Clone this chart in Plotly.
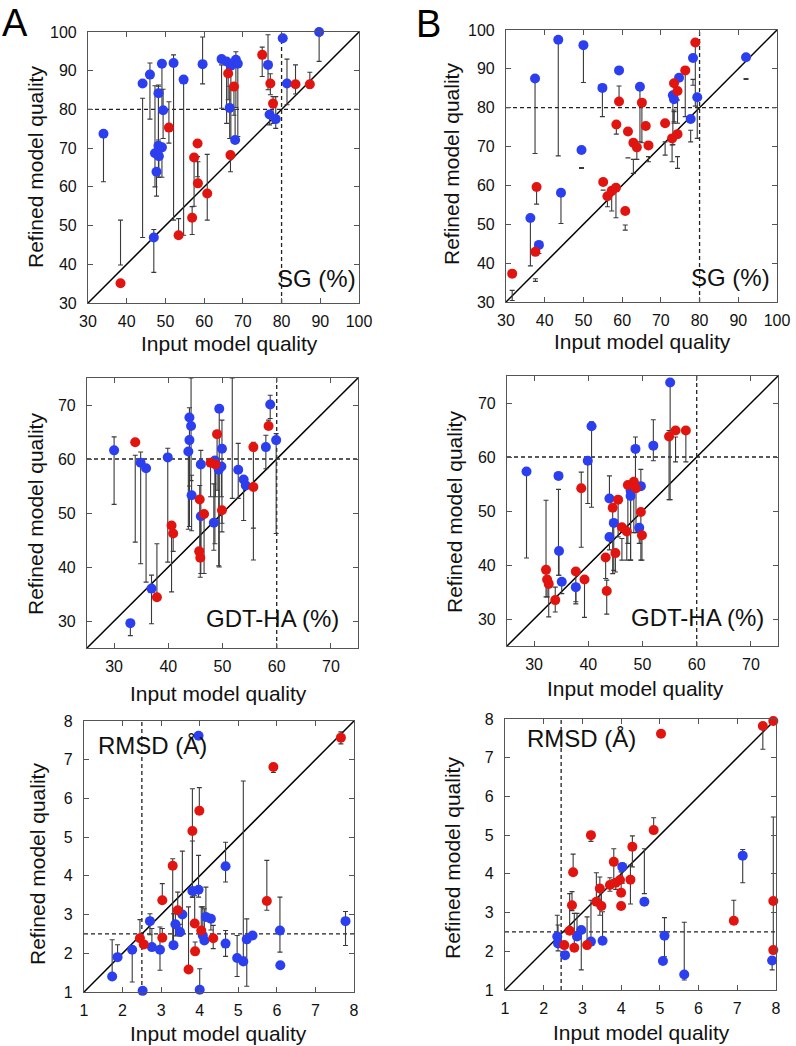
import plotly.graph_objects as go

# ---- panel A, SG (%) ----
sg_a_blue_x = [34.0, 44.1, 46.0, 49.1, 48.2, 49.4, 48.2, 49.1, 47.3, 48.3, 47.7, 52.1, 54.7, 59.6, 64.5, 65.8, 66.9, 68.2, 68.7, 66.6, 68.0, 76.5, 76.9, 78.5, 80.3, 81.4, 89.7, 47.0]
sg_a_blue_y = [73.7, 86.7, 89.0, 91.8, 84.2, 79.8, 70.6, 70.2, 68.7, 67.9, 63.9, 92.0, 87.7, 91.7, 93.0, 92.4, 91.3, 92.8, 91.8, 80.4, 72.1, 91.5, 78.7, 77.5, 98.4, 86.7, 100.0, 46.9]
sg_a_blue_lo = [61.3, 46.9, 77.5, 80.0, 72.1, 72.5, 62.5, 62.5, 60.0, 62.5, 57.6, 51.4, 47.5, 86.6, 80.3, 76.4, 72.5, 80.5, 73.0, 72.5, 72.1, 85.1, 76.0, 75.1, None, 81.2, 92.4, 37.9]
sg_a_blue_hi = [73.7, 82.9, 92.0, 91.8, 86.3, 85.2, 86.0, 70.2, 86.1, 67.9, 63.9, 94.1, 87.7, 98.7, 91.5, 92.4, 91.3, 94.9, 91.8, 86.0, 80.0, 99.3, 78.7, 83.3, None, 93.0, 100.0, 49.0]
sg_a_red_x = [38.4, 50.9, 53.4, 56.9, 58.3, 57.4, 58.4, 60.8, 66.8, 66.2, 67.7, 75.0, 77.1, 77.8, 83.6, 87.3]
sg_a_red_y = [35.1, 75.3, 47.5, 52.0, 71.2, 67.6, 60.9, 58.3, 68.2, 89.3, 85.9, 94.1, 86.7, 81.5, 86.5, 86.5]
sg_a_red_lo = [39.8, 71.3, 47.5, 47.7, 62.6, 55.0, 60.9, 51.4, 63.9, 82.5, 78.5, 88.5, 83.8, 76.4, 84.0, 85.5]
sg_a_red_hi = [51.4, 82.0, 51.8, 54.9, 67.8, 67.6, 66.5, 68.4, 68.2, 91.8, 85.9, 96.1, 89.2, 83.3, 91.5, 89.6]

# ---- panel B, SG (%) ----
sg_b_blue_x = [37.5, 43.5, 50.0, 59.2, 54.9, 64.6, 49.5, 44.2, 36.3, 38.5, 73.1, 73.4, 74.7, 78.3, 79.4, 77.7, 92.0]
sg_b_blue_y = [87.5, 97.5, 96.1, 89.6, 85.1, 85.4, 69.1, 58.1, 51.6, 44.7, 83.2, 82.2, 87.7, 92.8, 82.7, 77.1, 93.0]
sg_b_blue_lo = [68.2, 67.6, 86.5, None, 77.7, 71.2, 64.4, 50.2, 39.3, 42.5, 70.5, 76.0, None, 85.8, 72.1, 71.2, 87.3]
sg_b_blue_hi = [87.5, 97.5, 96.1, None, 85.1, 85.4, 64.6, 58.1, 51.6, 44.7, 83.2, 79.0, None, 87.3, 82.7, 74.2, 87.5]
sg_b_red_x = [31.6, 37.6, 37.9, 55.1, 56.2, 57.3, 58.4, 58.5, 59.2, 60.8, 61.5, 62.9, 63.8, 65.1, 66.1, 66.8, 71.1, 72.9, 74.3, 73.4, 74.3, 76.3, 78.9]
sg_b_red_y = [37.3, 42.9, 59.6, 60.9, 57.2, 58.6, 59.4, 75.7, 81.6, 53.4, 73.9, 71.0, 69.8, 81.3, 75.3, 70.3, 76.0, 72.1, 73.2, 86.3, 84.3, 89.6, 96.8]
sg_b_red_lo = [30.4, 35.3, 55.2, 58.8, 54.5, 53.4, 51.7, 73.2, 81.6, 48.5, 67.1, 63.1, 66.7, 71.0, None, 66.1, 67.8, 66.1, 64.4, 76.4, 76.0, 77.7, 80.4]
sg_b_red_hi = [33.0, 36.0, 59.6, 58.8, 57.2, 58.6, 59.4, 74.7, 85.6, 49.8, 67.1, 66.7, 69.8, 81.3, None, 67.4, 71.2, 70.4, 67.4, 79.4, 82.0, 89.6, 96.8]

# ---- panel A, GDT-HA (%) ----
gdt_a_blue_x = [30.0, 33.0, 34.9, 35.9, 36.9, 39.9, 43.9, 44.2, 43.9, 43.7, 44.3, 46.0, 46.0, 48.4, 49.4, 48.6, 49.9, 49.3, 49.8, 52.9, 53.9, 54.3, 58.0, 58.8, 59.9]
gdt_a_blue_y = [61.6, 29.6, 59.3, 58.3, 36.0, 60.3, 67.7, 66.1, 63.5, 61.4, 53.3, 59.0, 49.4, 48.2, 69.3, 59.7, 61.9, 58.0, 58.6, 58.0, 56.2, 55.1, 62.2, 70.1, 63.5]
gdt_a_blue_lo = [51.6, 27.3, 40.6, 37.2, 29.5, 40.9, 47.5, 56.0, 55.0, 47.0, 46.7, 43.4, 38.8, 43.1, 40.0, 44.3, 46.5, 40.2, 53.0, 52.7, 48.6, 55.1, 58.2, 67.5, 46.2]
gdt_a_blue_hi = [64.1, 29.6, 61.3, 58.8, 38.5, 62.0, 69.5, 75.0, 63.5, 61.4, 57.0, 61.6, 49.4, 55.4, 69.3, 59.7, 67.2, 58.0, 58.6, 62.9, 56.2, 55.1, 64.4, 71.8, 64.7]
gdt_a_red_x = [33.9, 37.9, 40.6, 40.9, 45.8, 45.7, 45.9, 46.6, 47.8, 48.7, 49.0, 49.9, 55.7, 55.7, 58.5]
gdt_a_red_y = [63.1, 34.4, 47.7, 46.2, 52.5, 42.9, 41.7, 49.8, 59.3, 59.0, 64.6, 50.5, 62.2, 54.8, 66.1]
gdt_a_red_lo = [44.6, 34.4, 35.4, 42.9, 42.5, 42.9, 38.1, 38.8, 53.0, 53.0, 54.2, 48.1, 41.3, 47.2, 66.1]
gdt_a_red_hi = [60.7, 44.3, 47.7, 46.2, 55.1, 42.9, 41.7, 49.8, 59.3, 59.0, 64.6, 50.5, 63.1, 54.8, 67.2]
# bar whose point lies above the plotted range
gdt_a_extra_x = [51.8]
gdt_a_extra_lo = [52.7]
gdt_a_extra_hi = [75.0]

# ---- panel B, GDT-HA (%) ----
gdt_b_blue_x = [28.6, 34.5, 34.6, 35.1, 37.7, 39.9, 40.6, 43.9, 43.9, 44.7, 47.8, 47.8, 48.7, 49.4, 49.7, 52.0, 55.1]
gdt_b_blue_y = [57.3, 56.5, 42.6, 36.9, 35.9, 59.3, 65.7, 52.3, 45.2, 47.8, 53.8, 52.8, 61.5, 46.9, 54.6, 62.1, 73.8]
gdt_b_blue_lo = [41.3, 38.1, 38.1, 34.7, 32.8, 51.4, 50.7, 52.3, 42.8, 39.0, 40.9, 40.9, 54.0, 44.0, 54.6, 59.3, 52.1]
gdt_b_blue_hi = [57.3, 54.0, 42.6, 36.9, 35.9, 59.3, 66.5, 56.5, 45.2, 47.8, 55.0, 52.8, 63.7, 46.9, 57.7, 66.9, 73.8]
gdt_b_red_x = [32.2, 32.4, 32.7, 33.9, 37.7, 38.7, 39.3, 43.2, 43.4, 44.5, 45.0, 45.5, 46.2, 47.1, 47.3, 48.4, 48.8, 49.7, 49.9, 54.9, 56.1, 58.0]
gdt_b_red_y = [39.1, 37.3, 36.5, 33.5, 38.8, 54.2, 37.3, 41.4, 35.2, 50.6, 42.2, 52.1, 47.0, 46.2, 54.8, 55.4, 54.2, 49.8, 45.5, 63.8, 64.9, 64.9]
gdt_b_red_lo = [34.1, 34.1, 30.4, 31.3, 33.2, 43.3, 30.3, 37.5, 30.9, 38.4, 38.7, 45.2, 40.9, 40.9, 44.0, 46.0, 46.0, 40.9, 40.9, 52.1, 59.1, 59.1]
gdt_b_red_hi = [52.0, 37.3, 36.5, 35.9, 38.8, 57.2, 37.3, 41.4, 37.2, 50.6, 42.2, 52.1, 44.9, 46.2, 54.8, 55.4, 54.2, 49.8, 45.5, 64.9, 63.7, 64.9]

# ---- panel A, RMSD ----
rmsd_a_blue_x = [1.73, 1.87, 2.25, 2.52, 2.71, 2.76, 2.97, 3.32, 3.37, 3.49, 3.55, 3.81, 3.97, 3.97, 4.00, 4.08, 4.12, 4.16, 4.29, 4.67, 4.67, 4.97, 5.13, 5.22, 5.37, 6.08, 6.09, 7.78]
rmsd_a_blue_y = [1.40, 1.90, 2.09, 1.03, 2.83, 2.16, 2.09, 2.21, 2.75, 2.55, 3.00, 3.61, 3.64, 7.62, 1.06, 2.46, 2.33, 2.94, 2.89, 4.25, 2.25, 1.88, 1.79, 2.36, 2.46, 2.59, 1.69, 2.83]
rmsd_a_blue_lo = [1.40, 1.82, 1.26, None, 2.48, 2.16, 1.56, 2.21, 2.45, 2.45, 2.55, 3.45, 3.45, None, 1.06, 2.46, 2.33, 2.94, 2.60, 3.84, 1.92, 1.40, 1.90, 1.15, None, 2.03, None, 2.20]
rmsd_a_blue_hi = [2.35, 2.22, 2.09, None, 3.02, 2.64, 2.68, 3.02, 3.02, 2.75, 4.64, 4.90, 4.53, None, 1.60, 3.20, 3.15, 3.71, 2.89, 4.87, 2.59, 2.46, 6.45, 2.89, None, 3.45, None, 3.08]
rmsd_a_red_x = [2.45, 2.55, 3.03, 3.03, 3.30, 3.43, 3.71, 3.81, 3.87, 3.88, 3.99, 4.04, 4.35, 5.74, 5.91, 7.66]
rmsd_a_red_y = [2.39, 2.23, 3.37, 2.40, 4.26, 3.11, 1.58, 5.16, 2.77, 2.05, 5.68, 2.59, 2.39, 3.35, 6.81, 7.57]
rmsd_a_red_lo = [2.39, None, 3.37, 2.40, 2.16, 3.11, 1.58, 3.45, 2.77, 2.05, 5.68, 2.59, 2.12, 3.11, 6.67, 7.41]
rmsd_a_red_hi = [2.87, None, 3.80, 2.64, 4.44, 3.58, 3.20, 6.25, 3.50, 2.29, 6.28, 3.20, 2.72, 4.40, 6.81, 7.72]

# ---- panel B, RMSD ----
rmsd_b_blue_x = [2.35, 2.37, 2.55, 2.86, 2.97, 3.22, 3.52, 4.03, 4.60, 5.08, 5.12, 5.63, 7.14, 7.90]
rmsd_b_blue_y = [2.38, 2.20, 1.90, 2.38, 2.55, 2.25, 2.27, 4.18, 3.28, 1.75, 2.40, 1.40, 4.47, 1.76]
rmsd_b_blue_lo = [2.38, 2.01, None, 2.38, 1.52, 2.25, 2.27, 3.76, 3.49, None, 1.86, 1.26, 3.77, 1.52]
rmsd_b_blue_hi = [2.93, 2.68, None, 2.98, 2.55, 3.32, 3.02, 4.28, 4.65, None, 2.87, 2.75, 4.63, 1.76]
rmsd_b_red_x = [2.53, 2.67, 2.73, 2.76, 2.79, 3.12, 3.22, 3.36, 3.45, 3.49, 3.71, 3.81, 3.86, 3.97, 4.00, 4.00, 4.24, 4.29, 4.84, 5.03, 6.91, 7.66, 7.93, 7.93, 7.93]
rmsd_b_red_y = [2.16, 2.53, 3.19, 4.04, 2.09, 2.16, 5.00, 3.28, 3.62, 3.17, 3.71, 4.31, 3.77, 3.84, 3.51, 3.17, 3.85, 4.70, 5.13, 7.62, 2.79, 7.82, 7.95, 3.30, 2.03]
rmsd_b_red_lo = [None, 2.53, 3.05, 4.04, 2.09, 2.16, 4.84, 3.28, 2.93, 3.17, 3.55, 3.85, 3.60, None, 3.51, None, 3.22, 4.18, 5.13, None, 2.79, 7.22, None, 3.30, 2.03]
rmsd_b_red_hi = [None, 3.49, 3.54, 4.51, 2.98, 2.89, 5.00, 4.03, 3.92, 3.55, 3.90, 4.65, 3.77, None, 4.05, None, 4.22, 4.98, 5.45, None, 3.32, 7.82, None, 5.47, 3.30]

BLUE = "#2b3ff0"
RED = "#e2140f"
FONT = "Liberation Sans, Arial, Helvetica, sans-serif"
W, H = 796, 1046

fig = go.Figure()


def bars(fig, xs, los, his, ax):
    # error bars drawn from lo to hi (some of them do not touch the point)
    bx, by, bl = [], [], []
    for x, lo, hi in zip(xs, los, his):
        if lo is None:
            continue
        bx.append(x)
        by.append(lo)
        bl.append(hi - lo)
    fig.add_trace(go.Scatter(
        x=bx, y=by, mode="markers", xaxis=ax[0], yaxis=ax[1],
        marker=dict(size=1, color="rgba(0,0,0,0)"),
        error_y=dict(type="data", symmetric=False, array=bl, arrayminus=[0] * len(bl),
                     color="#3a3a3a", thickness=1.1, width=2.5),
        cliponaxis=False, hoverinfo="skip", showlegend=False))


def dots(fig, xs, ys, color, ax):
    fig.add_trace(go.Scatter(
        x=xs, y=ys, mode="markers", xaxis=ax[0], yaxis=ax[1],
        marker=dict(size=10, color=color, line=dict(width=0)),
        cliponaxis=False, showlegend=False))


panels = [
    dict(n="", blue=(sg_a_blue_x, sg_a_blue_y, sg_a_blue_lo, sg_a_blue_hi),
         red=(sg_a_red_x, sg_a_red_y, sg_a_red_lo, sg_a_red_hi),
         rng=(30, 100), cut=(80, 80), dtick=10, label="SG (%)", lpos=(316, 278),
         box=(88, 359, 32, 303)),
    dict(n="2", blue=(sg_b_blue_x, sg_b_blue_y, sg_b_blue_lo, sg_b_blue_hi),
         red=(sg_b_red_x, sg_b_red_y, sg_b_red_lo, sg_b_red_hi),
         rng=(30, 100), cut=(80, 80), dtick=10, label="SG (%)", lpos=(730, 277),
         box=(506, 777, 30, 302)),
    dict(n="3", blue=(gdt_a_blue_x, gdt_a_blue_y, gdt_a_blue_lo, gdt_a_blue_hi),
         red=(gdt_a_red_x, gdt_a_red_y, gdt_a_red_lo, gdt_a_red_hi),
         extra=(gdt_a_extra_x, gdt_a_extra_lo, gdt_a_extra_hi),
         rng=(25, 75), cut=(60, 60), dtick=10, label="GDT-HA (%)", lpos=(272, 618),
         box=(87, 358, 378, 648)),
    dict(n="4", blue=(gdt_b_blue_x, gdt_b_blue_y, gdt_b_blue_lo, gdt_b_blue_hi),
         red=(gdt_b_red_x, gdt_b_red_y, gdt_b_red_lo, gdt_b_red_hi),
         rng=(25, 75), cut=(60, 60), dtick=10, label="GDT-HA (%)", lpos=(697, 617),
         box=(507, 778, 376, 646)),
    dict(n="5", blue=(rmsd_a_blue_x, rmsd_a_blue_y, rmsd_a_blue_lo, rmsd_a_blue_hi),
         red=(rmsd_a_red_x, rmsd_a_red_y, rmsd_a_red_lo, rmsd_a_red_hi),
         rng=(1, 8), cut=(2.5, 2.5), dtick=1, label="RMSD (Å)", lpos=(152, 745),
         box=(84, 354, 721, 992)),
    dict(n="6", blue=(rmsd_b_blue_x, rmsd_b_blue_y, rmsd_b_blue_lo, rmsd_b_blue_hi),
         red=(rmsd_b_red_x, rmsd_b_red_y, rmsd_b_red_lo, rmsd_b_red_hi),
         rng=(1, 8), cut=(2.45, 2.5), dtick=1, label="RMSD (Å)", lpos=(581, 738),
         box=(505, 776, 719, 990)),
]

# axis title positions (px): y-title centre, x-title centre
ytitle_pos = [(35, 167), (452, 164), (35, 514), (454, 512), (37, 864), (452, 858)]
xtitle_pos = [(230, 344), (642, 341), (218, 693), (635, 688), (218, 1033), (641, 1032)]

shapes = []
annotations = []
layout = dict()

for i, p in enumerate(panels):
    n = p["n"]
    ax = ("x" + n, "y" + n)
    lo, hi = p["rng"]
    bx0, bx1, by0, by1 = p["box"]

    bars(fig, p["blue"][0], p["blue"][2], p["blue"][3], ax)
    bars(fig, p["red"][0], p["red"][2], p["red"][3], ax)
    if "extra" in p:
        bars(fig, *p["extra"], ax)
    dots(fig, p["blue"][0], p["blue"][1], BLUE, ax)
    dots(fig, p["red"][0], p["red"][1], RED, ax)

    common = dict(range=[lo, hi], dtick=p["dtick"], tick0=lo if p["dtick"] == 1 else 0,
                  showline=True, linecolor="#555555", linewidth=1.2, mirror="ticks",
                  ticks="inside", ticklen=5, tickcolor="#555555", tickwidth=1,
                  showgrid=False, zeroline=False, automargin=False,
                  tickfont=dict(family=FONT, size=16, color="#111111"))
    layout["xaxis" + n] = dict(common, domain=[bx0 / W, bx1 / W], anchor="y" + n,
                               ticklabelstandoff=4)
    layout["yaxis" + n] = dict(common, domain=[1 - by1 / H, 1 - by0 / H], anchor="x" + n,
                               ticklabelstandoff=7)

    xr, yr = "x" + n, "y" + n
    shapes.append(dict(type="line", xref=xr, yref=yr, x0=lo, y0=lo, x1=hi, y1=hi,
                       line=dict(color="black", width=1.5), layer="below"))
    shapes.append(dict(type="line", xref=xr, yref=yr, x0=lo, x1=hi, y0=p["cut"][1], y1=p["cut"][1],
                       line=dict(color="#222222", width=1.3, dash="4px,3px"), layer="below"))
    shapes.append(dict(type="line", xref=xr, yref=yr, x0=p["cut"][0], x1=p["cut"][0], y0=lo, y1=hi,
                       line=dict(color="#222222", width=1.3, dash="4px,3px"), layer="below"))

    annotations.append(dict(text=p["label"], x=p["lpos"][0] / W, y=1 - p["lpos"][1] / H,
                            xref="paper", yref="paper", showarrow=False,
                            xanchor="center", yanchor="middle",
                            font=dict(family=FONT, size=24, color="#111111")))
    annotations.append(dict(text="Refined model quality", textangle=-90,
                            x=ytitle_pos[i][0] / W, y=1 - ytitle_pos[i][1] / H,
                            xref="paper", yref="paper", showarrow=False,
                            xanchor="center", yanchor="middle",
                            font=dict(family=FONT, size=21, color="#111111")))
    annotations.append(dict(text="Input model quality",
                            x=xtitle_pos[i][0] / W, y=1 - xtitle_pos[i][1] / H,
                            xref="paper", yref="paper", showarrow=False,
                            xanchor="center", yanchor="middle",
                            font=dict(family=FONT, size=21, color="#111111")))

# panel letters, anchored inside the page so they are not cut at the edge
annotations.append(dict(text="A", x=0, y=1, xref="paper", yref="paper",
                        showarrow=False, xanchor="left", yanchor="top",
                        font=dict(family=FONT, size=38, color="black")))
annotations.append(dict(text="B", x=428 / W, y=1 - 1 / H, xref="paper", yref="paper",
                        showarrow=False, xanchor="center", yanchor="top",
                        font=dict(family=FONT, size=38, color="black")))

fig.update_layout(
    width=W, height=H,
    margin=dict(l=0, r=0, t=0, b=0),
    paper_bgcolor="white", plot_bgcolor="white",
    shapes=shapes, annotations=annotations,
    showlegend=False,
)
fig.update_layout(**layout)

# no page margin or scrollbars, so the 796x1046 figure fills the window exactly
page_js = ("document.body.style.margin='0';"
           "document.body.style.overflow='hidden';"
           "document.documentElement.style.overflow='hidden';")
fig.write_html("out.html", config={"displayModeBar": False}, post_script=page_js)
